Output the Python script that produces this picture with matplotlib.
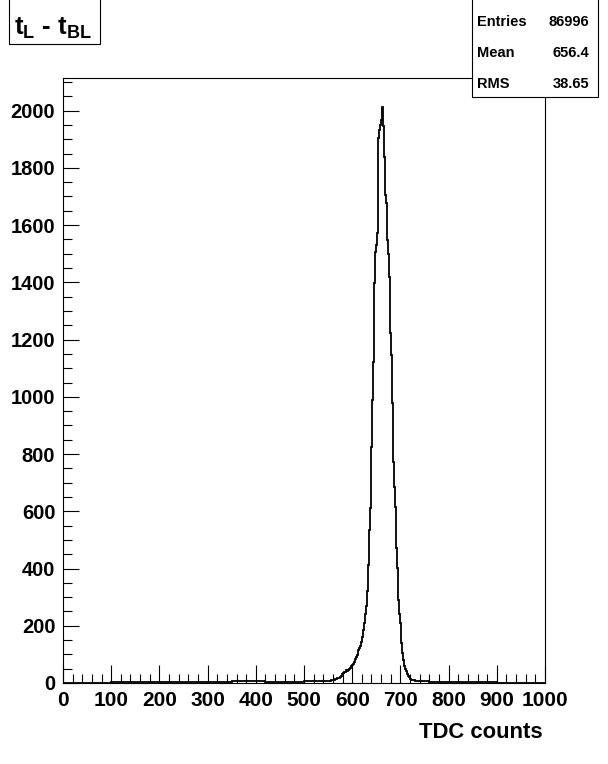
import matplotlib
matplotlib.use('Agg')
import matplotlib.pyplot as plt
from matplotlib.patches import Rectangle
from matplotlib.ticker import MultipleLocator

plt.rcParams['font.family'] = ['Liberation Sans', 'DejaVu Sans']
plt.rcParams['font.weight'] = 'bold'
plt.rcParams['mathtext.fontset'] = 'custom'
plt.rcParams['mathtext.bf'] = 'Liberation Sans:bold'
plt.rcParams['mathtext.rm'] = 'Liberation Sans:bold'

# bin edges (TDC counts) and contents
tail_low_edges = [0, 60, 100, 200, 300, 350, 420, 500, 540]
tail_low_counts = [0, 1, 2, 3, 4, 8, 5, 6, 8]

peak_start = 556
peak_width = 2
peak_counts = [10, 9, 12, 11, 13, 15,
               17, 16, 19, 22, 26,
               32, 35, 33, 38, 40,
               44, 42, 46, 48, 52,
               58, 62, 66, 72,
               85, 91, 98,
               115, 124, 130, 145,
               160, 185, 210, 240, 270, 320,
               412, 535, 612, 720, 825, 989, 1122, 1398, 1506, 1530,
               1573, 1905, 1933, 1950, 1967, 2011, 1945, 1838,
               1705, 1677, 1548, 1500, 1419, 1223, 1146, 978, 772, 685,
               615, 472, 402, 318, 290, 240, 210, 140, 105, 80,
               60, 50, 42, 30, 24, 20, 15, 12, 11, 10, 9, 8]

tail_high_edges = [760, 800, 900, 1000]
tail_high_counts = [6, 3, 2, 1]

peak_edges = [peak_start + i * peak_width for i in range(len(peak_counts) + 1)]
edges = tail_low_edges + peak_edges + tail_high_edges
counts = tail_low_counts + peak_counts + tail_high_counts

title = r'$\mathbf{t_{L}}$ - $\mathbf{t_{BL}}$'
stats = [('Entries', '86996'), ('Mean', '656.4'), ('RMS', '38.65')]

W, H = 608, 764
fig = plt.figure(figsize=(W / 100, H / 100), dpi=100)
ax = fig.add_axes([63 / W, 1 - 683 / H, 482 / W, 605 / H])

ax.stairs(counts, edges, baseline=None, color='black', linewidth=1.3)

ax.set_xlim(0, 1000)
ax.set_ylim(0, 2114)
ax.xaxis.set_major_locator(MultipleLocator(100))
ax.xaxis.set_minor_locator(MultipleLocator(20))
ax.yaxis.set_major_locator(MultipleLocator(200))
ax.yaxis.set_minor_locator(MultipleLocator(50))
ax.tick_params(which='both', direction='in', top=False, right=False, width=0.8)
ax.tick_params(axis='x', which='major', length=13, pad=5.5, labelsize=15)
ax.tick_params(axis='x', which='minor', length=6.5)
ax.tick_params(axis='y', which='major', length=11.5, pad=5.5, labelsize=14.5)
ax.tick_params(axis='y', which='minor', length=6.5)
for s in ax.spines.values():
    s.set_linewidth(0.8)

ax.set_xlabel('TDC counts', fontsize=15.8, fontweight='bold')
ax.xaxis.set_label_coords((543 - 63) / 482, (683 - 733) / 605)
ax.xaxis.label.set_ha('right')
ax.xaxis.label.set_va('center')

# title box (top left)
fig.patches.append(Rectangle((9 / W, 1 - 44 / H), 91 / W, 60 / H, transform=fig.transFigure,
                             facecolor='white', edgecolor='black', linewidth=0.8, zorder=1))
fig.text(53 / W, 1 - 35 / H, title, fontsize=18.5, fontweight='bold', ha='center', va='baseline')

# stats box (top right)
fig.patches.append(Rectangle((472 / W, 1 - 97 / H), 126 / W, 110 / H, transform=fig.transFigure,
                             facecolor='white', edgecolor='black', linewidth=0.8, zorder=1))
for i, (name, val) in enumerate(stats):
    y = 1 - (22 + 31 * i) / H
    fig.text(477 / W, y, name, fontsize=10.5, fontweight='bold', ha='left', va='center')
    fig.text(589 / W, y, val, fontsize=10.5, fontweight='bold', ha='right', va='center')

fig.savefig('out.png', dpi=100)
